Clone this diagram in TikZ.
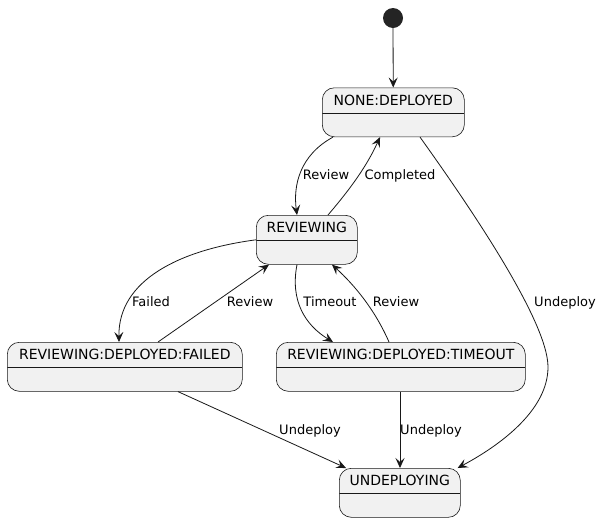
\documentclass[tikz,border=0pt]{standalone}
\usepackage{fontspec}
\setmainfont{DejaVu Sans}
\usetikzlibrary{arrows.meta}
\definecolor{stfill}{HTML}{F1F1F1}
\definecolor{stline}{HTML}{181818}
\begin{document}
\begin{tikzpicture}[x=1pt,y=-1pt,
  state/.style={draw=stline,fill=stfill,rounded corners=12pt,line width=0.6pt,anchor=north west,
    minimum height=49pt,inner xsep=0pt,inner ysep=0pt,text height=17.5pt,text depth=31.5pt,
    font=\fontsize{14}{16}\selectfont,
    path picture={\draw[stline,line width=0.6pt]
      ([yshift=-25pt]path picture bounding box.north west) -- ([yshift=-25pt]path picture bounding box.north east);}},
  startdot/.style={circle,fill=stline!95,minimum size=20pt,inner sep=0pt},
  trans/.style={draw=stline,line width=0.8pt,-{Stealth[length=10pt,width=9pt,inset=4pt]}},
  lbl/.style={font=\fontsize{13}{15}\selectfont,anchor=base,inner sep=0pt}]
  \useasboundingbox (0,0) rectangle (602,523);
  % states
  \node[startdot] (start) at (393,18) {};
  \node[state,minimum width=142pt] (none) at (322,87.5) {NONE:DEPLOYED};
  \node[state,minimum width=101pt] (rev) at (256,215) {REVIEWING};
  \node[state,minimum width=235pt] (failed) at (7,342) {REVIEWING:DEPLOYED:FAILED};
  \node[state,minimum width=249pt] (timeout) at (276,342) {REVIEWING:DEPLOYED:TIMEOUT};
  \node[state,minimum width=121pt] (undep) at (339,468) {UNDEPLOYING};
  \coordinate (bend) at (548,367);
  % transitions
  \draw[trans] (start) -- (none);
  \draw[trans] ([xshift=11pt]none.south west) .. controls +(-33,18) and +(-4,-30) .. ([xshift=41pt]rev.north west);
  \draw[trans] ([xshift=72pt]rev.north west) .. controls +(17,-20) and +(-15,33) .. ([xshift=58pt]none.south west);
  \draw[trans] ([xshift=98pt]none.south west) .. controls +(45,63) and +(0,-47) .. (bend)
    .. controls +(0,43) and +(43,-23) .. ([xshift=-3pt]undep.north east);
  \draw[trans] (rev.west) .. controls +(-76,10) and +(-1,-62) .. ([xshift=112pt]failed.north west);
  \draw[trans] ([xshift=151pt]failed.north west) -- ([xshift=13pt]rev.south west);
  \draw[trans] ([xshift=41pt]rev.south west) .. controls +(-7,36) and +(-28,-17) .. ([xshift=57pt]timeout.north west);
  \draw[trans] ([xshift=113pt]timeout.north west) .. controls +(-14,-32) and +(23,21) .. ([xshift=76pt]rev.south west);
  \draw[trans] ([xshift=171pt]failed.south west) -- ([xshift=7pt]undep.north west);
  \draw[trans] ([xshift=124pt]timeout.south west) -- ([xshift=61pt]undep.north west);
  % labels
  \node[lbl] (lreview1) at (326,179.5) {Review};
  \node[lbl] (lcompleted) at (400,179.5) {Completed};
  \node[lbl] (lundeploy1) at (565,306.5) {Undeploy};
  \node[lbl] (lfailed) at (151,306.5) {Failed};
  \node[lbl] (lreview2) at (250,306.5) {Review};
  \node[lbl] (ltimeout) at (330,306.5) {Timeout};
  \node[lbl] (lreview3) at (396,306.5) {Review};
  \node[lbl] (lundeploy2) at (310,434.5) {Undeploy};
  \node[lbl] (lundeploy3) at (431,434.5) {Undeploy};
\end{tikzpicture}
\end{document}
